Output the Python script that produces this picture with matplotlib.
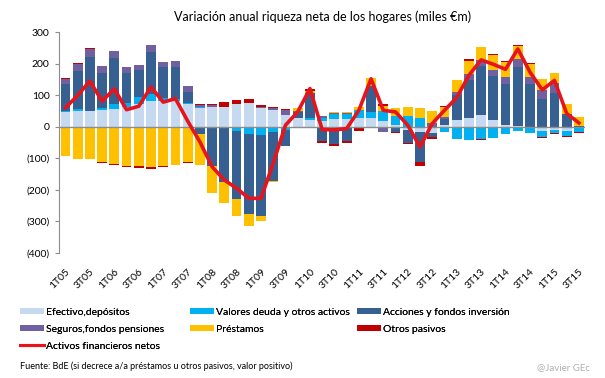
import numpy as np
import matplotlib
matplotlib.use('Agg')
import matplotlib.pyplot as plt
from matplotlib.lines import Line2D
from matplotlib.patches import Patch

plt.rcParams['font.family'] = ['Lato', 'DejaVu Sans']

years = ['05', '06', '07', '08', '09', '10', '11', '12', '13', '14', '15']
quarters = [f'{q}T{y}' for y in years for q in range(1, 5)][:43]

efectivo = [46, 50, 50, 52, 55, 64, 73, 81, 81, 81, 73, 60, 64, 64, 71, 75, 60, 52, 36, 28,
            22, 17, 24, 24, 28, 27, 18, 5, -10, -17, -20, 4, 20, 28, 36, 22, 7, 2, 0, -12,
            -10, -14, -3]
valores = [4, 5, 1, 6, 16, 10, 21, 23, 9, 7, 3, 4, 0, 0, -15, -24, -27, -17, -9, -4,
           5, 10, 15, 16, 26, 21, 32, 28, 35, 27, 0, -17, -38, -43, -39, -36, -24, -12, -20, -21,
           -10, -16, -13]
acciones = [85, 121, 171, 112, 146, 95, 87, 132, 98, 100, 33, -24, -125, -175, -213, -252, -255, -155, -52, 18,
            79, -46, -56, -46, 0, 82, -4, -16, -40, -95, -12, 20, 81, 120, 158, 140, 129, 187, 134, 89,
            108, 39, 3]
seguros = [16, 22, 23, 24, 24, 19, 16, 24, 18, 21, 19, 4, 4, 0, 0, 0, 4, 7, 16, 5,
           0, 7, 5, 3, 0, 0, -12, 0, 0, 0, 12, 7, 9, 19, 18, 19, 23, 25, 25, 26,
           31, 0, 0]
prestamos = [-94, -102, -102, -113, -118, -124, -125, -128, -125, -120, -113, -98, -84, -68, -55, -38, -17, -3, 2, 8,
             8, 0, 4, 3, 8, 23, 17, 26, 28, 34, 37, 32, 37, 40, 42, 47, 47, 42, 40, 37,
             32, 32, 29]
otros = [4, 3, 4, -2, -3, -4, -6, -6, -3, -2, -2, 3, 4, 13, 13, 13, 6, 3, 3, 0,
         6, -5, -5, -5, -14, -3, 4, -5, -6, -13, -7, 4, 2, 8, -2, 3, 3, 3, 3, -3,
         -3, -3, -3]
netos = [60, 99, 145, 81, 120, 54, 65, 126, 78, 89, 18, -48, -127, -169, -195, -227, -227, -115, 5, 47,
         121, -9, -10, -6, 52, 152, 52, 47, 5, -64, 10, 52, 92, 163, 212, 198, 182, 247, 173, 117,
         147, 42, 12]

series = [
    ('Efectivo,depósitos', efectivo, '#C5D9F1'),
    ('Valores deuda y otros activos', valores, '#00B0F0'),
    ('Acciones y fondos inversión', acciones, '#376092'),
    ('Seguros,fondos pensiones', seguros, '#7060A0'),
    ('Préstamos', prestamos, '#FFC000'),
    ('Otros pasivos', otros, '#C00000'),
]

fig = plt.figure(figsize=(6.05, 3.78), dpi=100)
ax = fig.add_axes([0.098, 0.331, 0.869, 0.584])

x = np.arange(len(quarters))
pos_bottom = np.zeros(len(x))
neg_bottom = np.zeros(len(x))
for name, vals, col in series:
    v = np.array(vals, dtype=float)
    bottom = np.where(v >= 0, pos_bottom, neg_bottom)
    ax.bar(x, v, 0.8, bottom=bottom, color=col, zorder=2)
    pos_bottom += np.where(v >= 0, v, 0)
    neg_bottom += np.where(v < 0, v, 0)

ax.axhline(0, color='#8c8c8c', lw=1, zorder=3)
ax.plot(x, netos, color='#E8141C', lw=2.6, zorder=4)

ax.set_xlim(-0.5, len(x) - 0.5)
ax.set_ylim(-400, 300)
yt = list(range(-400, 301, 100))
ax.set_yticks(yt)
ax.set_yticklabels([f'({-v})' if v < 0 else str(v) for v in yt], fontsize=7.5)
ax.set_xticks(x[::2])
ax.set_xticklabels(quarters[::2], rotation=45, ha='right', va='top',
                   rotation_mode='anchor', fontsize=7.5)
ax.tick_params(axis='x', length=0, pad=10)
ax.tick_params(axis='y', length=3, color='#8c8c8c', pad=4)
for s in ['top', 'right', 'bottom']:
    ax.spines[s].set_visible(False)
ax.spines['left'].set_color('#8c8c8c')

ax.set_title('Variación anual riqueza neta de los hogares (miles €m)', fontsize=9, pad=8)

# legend: three separate columns so they sit where the original puts them
handles = {name: Patch(facecolor=col) for name, vals, col in series}
handles['Activos financieros netos'] = Line2D([], [], color='#E8141C', lw=2.2)
columns = [
    (20, ['Efectivo,depósitos', 'Seguros,fondos pensiones', 'Activos financieros netos']),
    (190, ['Valores deuda y otros activos', 'Préstamos']),
    (357, ['Acciones y fondos inversión', 'Otros pasivos']),
]
for px, names in columns:
    leg = fig.legend([handles[k] for k in names], names, loc='upper left',
                     bbox_to_anchor=(px / 605, 1 - 308 / 378), frameon=False, fontsize=7.5,
                     handlelength=2.3, handleheight=0.55, handletextpad=0.2,
                     labelspacing=0.75, borderaxespad=0, borderpad=0)
    fig.add_artist(leg)

fig.text(0.033, 0.025, 'Fuente: BdE (si decrece a/a préstamos u otros pasivos, valor positivo)',
         fontsize=6.5)
fig.text(0.975, 0.02, '@Javier GEc', fontsize=7, color='#b0b0b0', ha='right')

fig.savefig('out.png', dpi=100)
